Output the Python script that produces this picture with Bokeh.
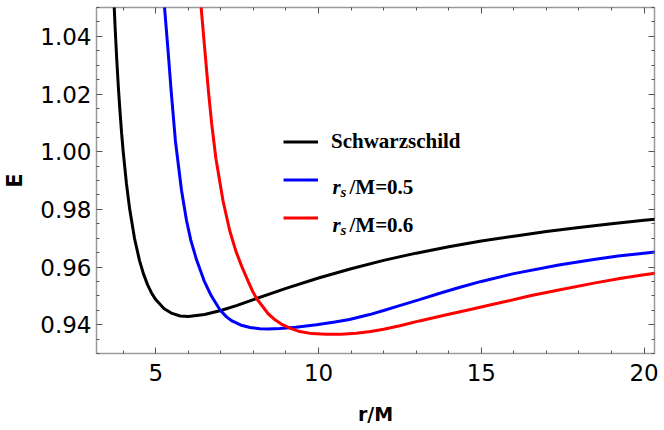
from bokeh.plotting import figure
from bokeh.models import (FixedTicker, LinearAxis, Range1d, Legend, LegendItem,
                          Label, NumeralTickFormatter, CustomJSTickFormatter)
from bokeh.embed import file_html
from bokeh.resources import INLINE

# ---- data ----
r_schw = [3.70, 3.75, 3.80, 3.85, 3.90, 3.95, 4.00, 4.10, 4.20, 4.35, 4.50, 4.62,
          4.75, 4.87, 5.00, 5.25, 5.50, 5.75, 6.00, 6.50, 7.00, 7.50, 8.00, 9.0,
          10.0, 11.0, 12.0, 13.0, 14.0, 15.0, 16.0, 17.0, 18.0, 19.0, 20.0, 20.4]
E_schw = [1.0563, 1.0435, 1.0324, 1.0226, 1.0142, 1.0066, 1.0000, 0.9889, 0.9800,
          0.9698, 0.9623, 0.9577, 0.9538, 0.9510, 0.9487, 0.9456, 0.9439, 0.9430,
          0.9428, 0.9435, 0.9449, 0.9467, 0.9487, 0.9526, 0.9562, 0.9594, 0.9623,
          0.9648, 0.9670, 0.9690, 0.9707, 0.9723, 0.9737, 0.9750, 0.9762, 0.9766]

r_05 = [5.22, 5.271, 5.378, 5.473, 5.604, 5.791, 5.944, 6.076, 6.256, 6.486, 6.706,
        6.975, 7.174, 7.343, 7.603, 7.894, 8.20, 8.445, 8.81, 9.3, 9.94, 10.5,
        10.95, 11.57, 12.0, 12.49, 13.1, 13.7, 14.32, 15.0, 16.0, 17.38, 18.4,
        19.2, 20.0, 20.4]
E_05 = [1.058, 1.0499, 1.0350, 1.0211, 1.0037, 0.9866, 0.9762, 0.9693, 0.9624,
        0.9552, 0.9500, 0.9451, 0.9427, 0.9413, 0.9399, 0.9390, 0.9386, 0.9385,
        0.9387, 0.9391, 0.9400, 0.9409, 0.9418, 0.9435, 0.9449, 0.9466, 0.9487,
        0.9508, 0.9529, 0.9550, 0.9577, 0.9607, 0.9625, 0.9638, 0.9648, 0.9653]

r_06 = [6.35, 6.394, 6.510, 6.617, 6.718, 6.847, 7.067, 7.275, 7.459, 7.634, 7.833,
        7.970, 8.108, 8.460, 8.674, 8.858, 9.103, 9.424, 9.791, 10.242, 10.7,
        11.16, 11.6, 12.0, 12.5, 13.1, 14.0, 14.63, 15.5, 16.5, 17.38, 18.5,
        19.3, 20.0, 20.4]
E_06 = [1.056, 1.0500, 1.0350, 1.0211, 1.0097, 0.9977, 0.9829, 0.9725, 0.9656,
        0.9604, 0.9552, 0.9517, 0.9489, 0.9437, 0.9416, 0.9402, 0.9389, 0.9376,
        0.9369, 0.9367, 0.9367, 0.9370, 0.9376, 0.9384, 0.9396, 0.9413, 0.9436,
        0.9452, 0.9474, 0.9500, 0.9520, 0.9545, 0.9561, 0.9573, 0.9579]

x_ticks = [5, 10, 15, 20]
x_minor = [4, 6, 7, 8, 9, 11, 12, 13, 14, 16, 17, 18, 19]
y_ticks = [0.94, 0.96, 0.98, 1.00, 1.02, 1.04]
y_minor = [0.930, 0.935, 0.945, 0.950, 0.955, 0.965, 0.970, 0.975, 0.985, 0.990,
           0.995, 1.005, 1.010, 1.015, 1.025, 1.030, 1.035, 1.045, 1.050]

x_label = "r/M"
y_label = "E"
legend_labels = ["Schwarzschild", "r", "s", "/M=0.5", "/M=0.6"]

# ---- figure ----
p = figure(width=664, height=430, output_backend="svg", toolbar_location=None,
           x_range=Range1d(3.18, 20.32), y_range=Range1d(0.930, 1.050),
           min_border_left=96, min_border_right=10, min_border_top=7,
           min_border_bottom=77)
p.grid.visible = False
p.outline_line_color = "#9a9a9a"
p.outline_line_width = 1.5
p.background_fill_color = "white"
p.border_fill_color = "white"

r0 = p.line(r_schw, E_schw, line_color="black", line_width=3)
r1 = p.line(r_05, E_05, line_color="#0000ff", line_width=3)
r2 = p.line(r_06, E_06, line_color="#ff0000", line_width=3)

xt = FixedTicker(ticks=x_ticks, minor_ticks=x_minor)
yt = FixedTicker(ticks=y_ticks, minor_ticks=y_minor)

def style_axis(ax):
    ax.axis_line_color = None
    ax.major_tick_in = 6
    ax.major_tick_out = 0
    ax.minor_tick_in = 3
    ax.minor_tick_out = 0
    ax.major_tick_line_color = "#555555"
    ax.minor_tick_line_color = "#555555"
    ax.major_label_text_font = "DejaVu Sans"
    ax.major_label_text_font_size = "23px"
    ax.major_label_text_color = "black"
    ax.axis_label_text_font = "DejaVu Sans"
    ax.axis_label_text_font_style = "bold"
    ax.axis_label_text_color = "black"

xa = p.xaxis[0]
xa.ticker = xt
style_axis(xa)
xa.axis_label = x_label
xa.axis_label_text_font_size = "19px"
xa.major_label_text_line_height = 1.0
xa.axis_label_text_line_height = 1.0
xa.major_label_standoff = 10
xa.axis_label_standoff = 19

ya = p.yaxis[0]
ya.ticker = yt
ya.formatter = NumeralTickFormatter(format="0.00")
style_axis(ya)
ya.axis_label = y_label
ya.axis_label_text_font_size = "21px"
ya.major_label_standoff = 5
ya.axis_label_standoff = 10

blank = CustomJSTickFormatter(code="return ''")
top = LinearAxis(ticker=xt, formatter=blank)
right = LinearAxis(ticker=yt, formatter=blank)
for ax in (top, right):
    style_axis(ax)
    ax.major_label_text_font_size = "0px"
    ax.major_label_standoff = 0
    ax.axis_label_standoff = 0
p.add_layout(top, "above")
p.add_layout(right, "right")

legend = Legend(items=[LegendItem(label=legend_labels[0], renderers=[r0]),
                       LegendItem(label=" ", renderers=[r1]),
                       LegendItem(label=" ", renderers=[r2])],
                location=(187, 123), glyph_width=35, glyph_height=25,
                label_height=25, spacing=13, padding=0, margin=0,
                border_line_color=None, background_fill_alpha=0,
                label_standoff=13, label_text_font="Liberation Serif",
                label_text_font_style="bold", label_text_font_size="21px",
                label_text_color="black")
p.add_layout(legend)

for base, txt in ((167, legend_labels[3]), (128.7, legend_labels[4])):
    p.add_layout(Label(x=236, y=base, x_units="screen", y_units="screen",
                       text=legend_labels[1], text_font="Liberation Serif",
                       text_font_style="bold italic", text_font_size="21px",
                       text_baseline="alphabetic", text_color="black"))
    p.add_layout(Label(x=244, y=base - 5.5, x_units="screen", y_units="screen",
                       text=legend_labels[2], text_font="Liberation Serif",
                       text_font_style="bold italic", text_font_size="15px",
                       text_baseline="alphabetic", text_color="black"))
    p.add_layout(Label(x=253, y=base, x_units="screen", y_units="screen",
                       text=txt, text_font="Liberation Serif",
                       text_font_style="bold", text_font_size="21px",
                       text_baseline="alphabetic", text_color="black"))

open("out.html", "w").write(file_html(p, INLINE))
